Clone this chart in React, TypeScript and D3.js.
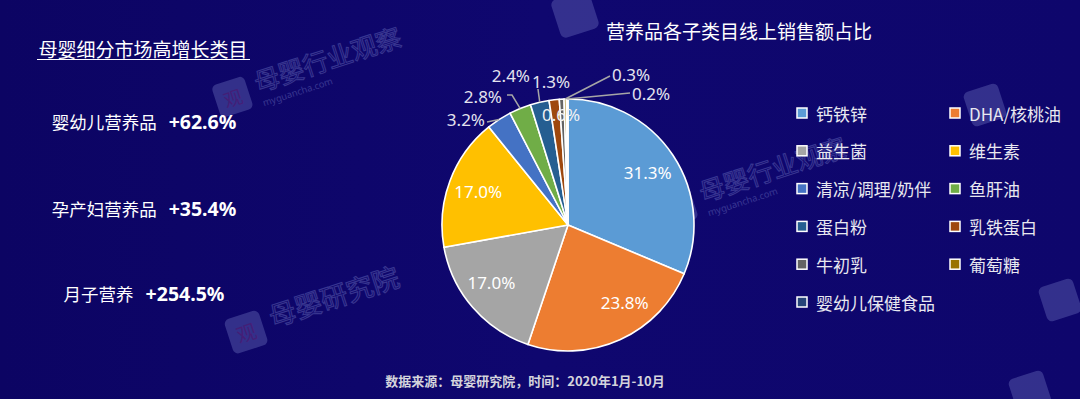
import React from 'react';
import * as d3 from 'd3';

// ---------- data ----------
const categories = ['钙铁锌', 'DHA/核桃油', '益生菌', '维生素', '清凉/调理/奶伴', '鱼肝油', '蛋白粉', '乳铁蛋白', '牛初乳', '葡萄糖', '婴幼儿保健食品'];
const shares = [31.3, 23.8, 17.0, 17.0, 3.2, 2.8, 2.4, 1.3, 0.6, 0.3, 0.2];
const colors = ['#5b9bd5', '#ed7d31', '#a5a5a5', '#ffc000', '#4472c4', '#70ad47', '#255e91', '#9e480e', '#636363', '#997300', '#264478'];
const growthCategories = ['婴幼儿营养品', '孕产妇营养品', '月子营养'];
const growthValues = ['+62.6%', '+35.4%', '+254.5%'];
const leftTitle = '母婴细分市场高增长类目';
const chartTitle = '营养品各子类目线上销售额占比';
const sourceText = '数据来源：母婴研究院，时间：2020年1月-10月';

// ---------- layout (label placement relative to pie centre) ----------
type LabelLayout =
  | { mode: 'inside'; shift: number }
  | { mode: 'outside'; dx: number; dy: number; anchor: 'start' | 'end' | 'middle'; line: [number, number][] };
const labelLayout: LabelLayout[] = [
  { mode: 'inside', shift: 0 },
  { mode: 'inside', shift: -12 },
  { mode: 'inside', shift: 4 },
  { mode: 'inside', shift: 0 },
  { mode: 'outside', dx: -83, dy: -106, anchor: 'end', line: [[-81, -103]] },
  { mode: 'outside', dx: -66, dy: -129, anchor: 'end', line: [[-56, -130], [-61, -130]] },
  { mode: 'outside', dx: -38, dy: -150, anchor: 'end', line: [[-30, -136]] },
  { mode: 'outside', dx: -36, dy: -144, anchor: 'start', line: [] },
  { mode: 'outside', dx: -7, dy: -111, anchor: 'middle', line: [] },
  { mode: 'outside', dx: 44, dy: -151, anchor: 'start', line: [[42, -149]] },
  { mode: 'outside', dx: 64, dy: -132, anchor: 'start', line: [[62, -132]] },
];

const W = 1080;
const H = 399;
const CX = 568;
const CY = 225;
const R = 126;
const CJK = '"Noto Sans CJK SC", "Noto Sans", sans-serif';
const NUM = '"Noto Sans", "Noto Sans CJK SC", sans-serif';

function Logo({ x, y, scale = 1 }: { x: number; y: number; scale?: number }) {
  return (
    <g transform={`translate(${x},${y}) rotate(-18) scale(${scale})`} opacity={0.3}>
      <rect x={-20} y={-20} width={40} height={40} rx={6} fill="#8a93d8" />
    </g>
  );
}

function Watermark({ x, y, text, sub, scale = 1 }: { x: number; y: number; text: string; sub?: string; scale?: number }) {
  return (
    <g transform={`translate(${x},${y}) rotate(-18) scale(${scale})`} opacity={0.3}>
      <rect x={-46} y={-26} width={40} height={40} rx={6} fill="#8a93d8" />
      <text x={-26} y={-6} textAnchor="middle" dominantBaseline="central" fontSize={22} fill="#c05a9a" fontFamily={CJK}>观</text>
      <text x={4} y={-2} fontSize={30} fill="none" stroke="#9aa3e6" strokeWidth={1.2} fontFamily={CJK}>{text}</text>
      {sub && <text x={6} y={16} fontSize={11} fill="#9aa3e6" fontFamily={NUM}>{sub}</text>}
    </g>
  );
}

export default function App() {
  const pie = d3.pie<number>().sort(null).startAngle(0).endAngle(2 * Math.PI);
  const arcs = pie(shares);
  const arcGen = d3.arc<d3.PieArcDatum<number>>().innerRadius(0).outerRadius(R);
  const edgeGen = d3.arc<d3.PieArcDatum<number>>().innerRadius(R).outerRadius(R);

  const legendCols = [797, 950];
  const legendY0 = 113;
  const legendStep = 37.8;

  const fmt = d3.format('.1f');

  return (
    <svg width={W} height={H} viewBox={`0 0 ${W} ${H}`} style={{ position: 'absolute', left: 0, top: 0, display: 'block' }}>
      <defs>
        <linearGradient id="bg" x1="0" y1="0" x2="1" y2="0">
          <stop offset="0" stopColor="#0c0463" />
          <stop offset="0.5" stopColor="#0f076f" />
          <stop offset="1" stopColor="#0e066c" />
        </linearGradient>
      </defs>
      <rect x={0} y={0} width={W} height={H} fill="url(#bg)" />

      {/* watermarks */}
      <Logo x={575} y={14} scale={1} />
      <Watermark x={255} y={95} text="母婴行业观察" sub="myguancha.com" scale={0.85} />
      <Watermark x={700} y={205} text="母婴行业观察" sub="myguancha.com" scale={0.85} />
      <Watermark x={270} y={330} text="母婴研究院" scale={0.9} />
      <Logo x={985} y={105} scale={0.9} />
      <Logo x={1060} y={300} scale={0.9} />
      <Logo x={1030} y={392} scale={0.9} />

      {/* left panel */}
      <text x={143} y={48} textAnchor="middle" dominantBaseline="central" fontSize={19} fill="#ffffff" fontFamily={CJK}>{leftTitle}</text>
      <line x1={37} x2={250} y1={59.5} y2={59.5} stroke="#ffffff" strokeWidth={1.2} />
      {growthCategories.map((c, i) => (
        <text key={c} x={144} y={[121, 208, 293][i]} textAnchor="middle" dominantBaseline="central" fill="#ffffff" fontFamily={CJK}>
          <tspan fontSize={17.5}>{c}</tspan>
          <tspan dx={12} fontSize={19.5} fontWeight="bold" fontFamily={NUM}>{growthValues[i]}</tspan>
        </text>
      ))}

      {/* chart title */}
      <text x={739} y={30} textAnchor="middle" dominantBaseline="central" fontSize={19} fill="#ffffff" fontFamily={CJK}>{chartTitle}</text>

      {/* pie */}
      <g transform={`translate(${CX},${CY})`}>
        {arcs.map((a, i) => (
          <path key={categories[i]} d={arcGen(a) || ''} fill={colors[i]} stroke="#ffffff" strokeWidth={1.6} strokeLinejoin="round" />
        ))}
        {arcs.map((a, i) => {
          const lay = labelLayout[i];
          const label = `${fmt(shares[i])}%`;
          if (lay.mode === 'inside') {
            const mid = (a.startAngle + a.endAngle) / 2 + (lay.shift * Math.PI) / 180;
            const r = R * 0.76;
            return (
              <text key={'l' + i} x={r * Math.sin(mid)} y={-r * Math.cos(mid)} textAnchor="middle" dominantBaseline="central" fontSize={17} fill="#ffffff" fontFamily={NUM}>
                {label}
              </text>
            );
          }
          const [ex, ey] = edgeGen.centroid(a);
          const pts: [number, number][] = [[ex, ey], ...lay.line];
          return (
            <g key={'l' + i}>
              {lay.line.length > 0 && (
                <polyline points={pts.map((p) => p.join(',')).join(' ')} fill="none" stroke="#a6a6a6" strokeWidth={1.5} />
              )}
              <text x={lay.dx} y={lay.dy} textAnchor={lay.anchor} dominantBaseline="central" fontSize={17} fill={i === 8 ? '#f2f2f2' : '#e3e3ee'} fontFamily={NUM}>
                {label}
              </text>
            </g>
          );
        })}
      </g>

      {/* legend */}
      {categories.map((c, i) => {
        const col = i % 2;
        const row = Math.floor(i / 2);
        const x = legendCols[col];
        const y = legendY0 + row * legendStep;
        return (
          <g key={'lg' + c}>
            <rect x={x} y={y - 5} width={10} height={10} fill={colors[i]} stroke="#ffffff" strokeWidth={1.5} />
            <text x={x + 19} y={y} dominantBaseline="central" fontSize={17} fill="#e8e8f0" fontFamily={CJK}>{c}</text>
          </g>
        );
      })}

      {/* source */}
      <text x={525} y={380} textAnchor="middle" dominantBaseline="central" fontSize={13} fontWeight="bold" fill="#d4d4dc" fontFamily={CJK}>{sourceText}</text>
    </svg>
  );
}
